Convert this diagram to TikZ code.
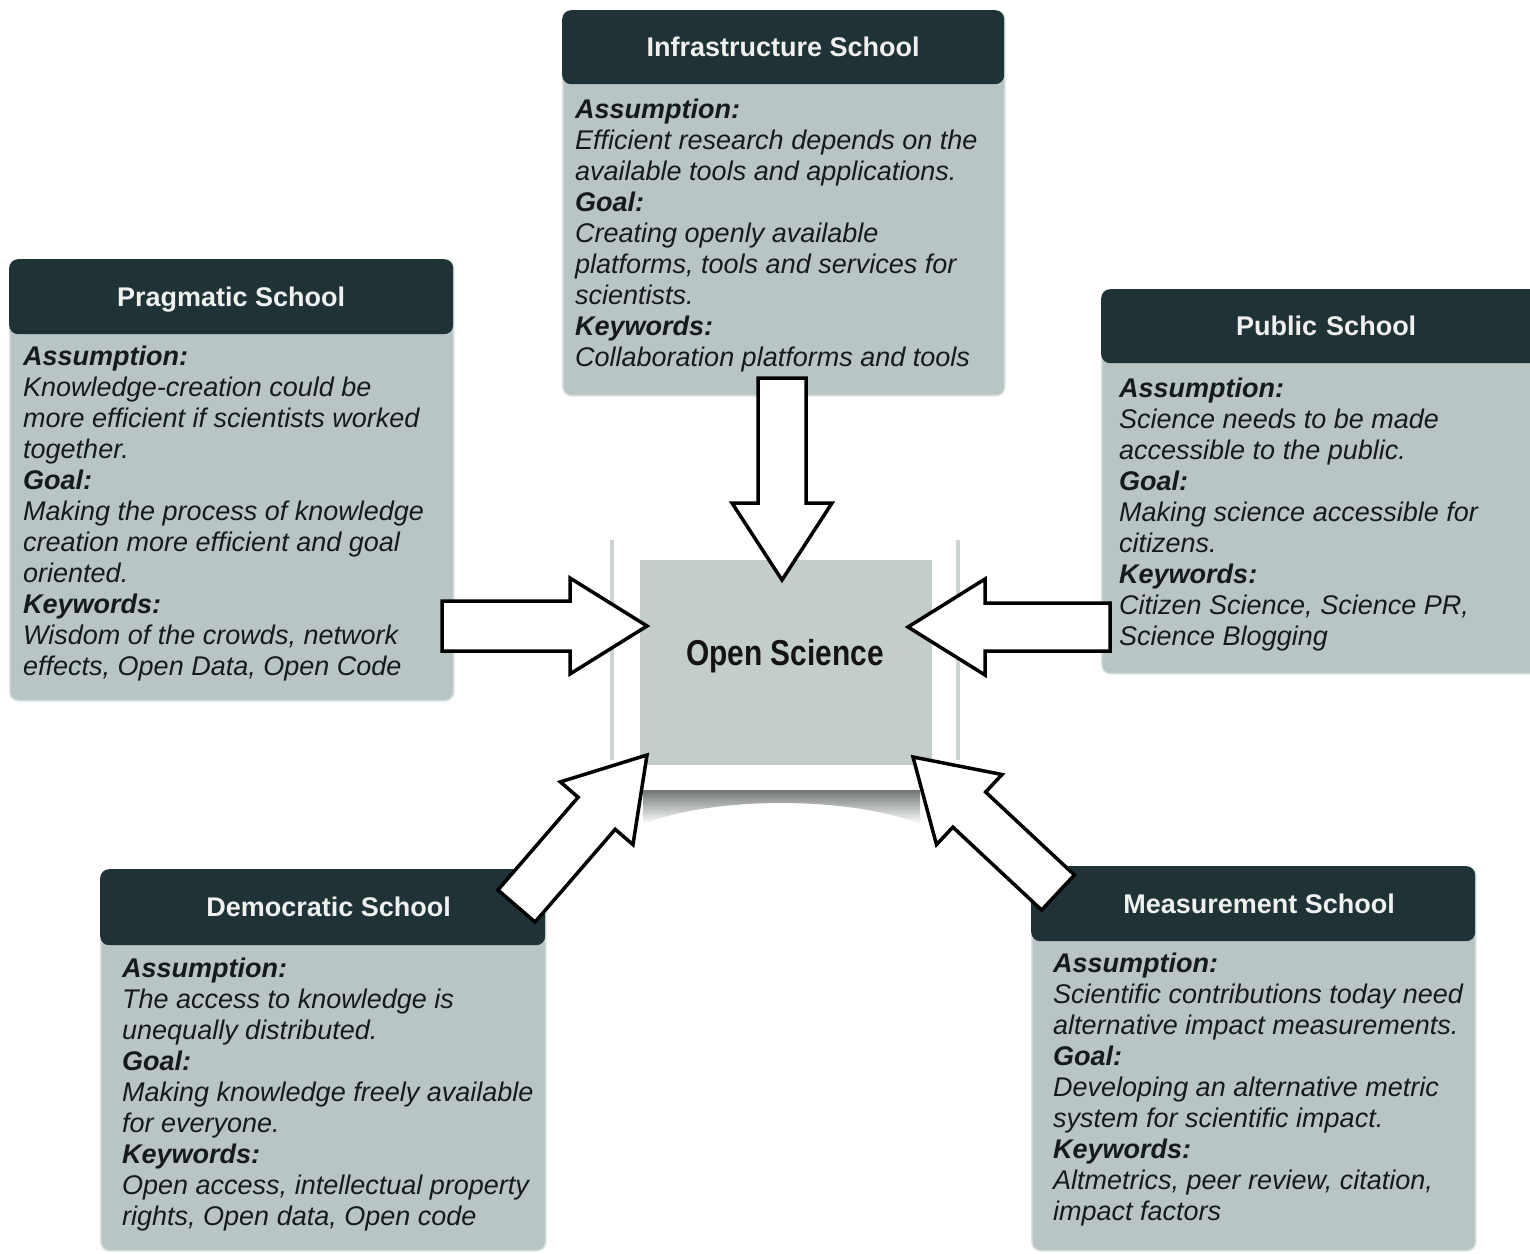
\documentclass[tikz,border=0pt]{standalone}
\usepackage{fontspec}
\setmainfont{Liberation Sans}
\usetikzlibrary{calc}

\definecolor{headfill}{HTML}{1F3337}
\definecolor{bodyfill}{HTML}{B8C5C4}
\definecolor{corefill}{HTML}{C3CDCC}
\definecolor{rimgray}{HTML}{CCD5D4}
\definecolor{inktext}{HTML}{161A1A}

\tikzset{
  bodybox/.style={draw=bodyfill!55!white, line width=1.5pt, fill=bodyfill,
    rounded corners=9pt, anchor=north west, inner sep=0pt},
  headbox/.style={fill=headfill, rounded corners=9pt, anchor=north west,
    inner sep=0pt, text=white!94!black,
    font=\fontsize{27}{31}\selectfont\bfseries, text height=19.5pt, text depth=0pt},
  bodytext/.style={anchor=north west, inner sep=0pt, align=left, text=inktext,
    font=\fontsize{27}{31}\selectfont\itshape},
  corebox/.style={fill=corefill, inner sep=0pt, minimum width=292pt, minimum height=205pt},
  arrowbody/.style={fill=white, draw=black, line width=3.5pt, line join=miter}
}

% block arrow: #1 tail, #2 tip, #3 shaft half width, #4 head half width, #5 head length
\newcommand{\blockarrow}[5]{%
  \coordinate (#1-base) at ($(#2)!#5!(#1)$);
  \draw[arrowbody]
    ($(#1)!#3!90:(#2)$) -- ($(#1-base)!#3!90:(#2)$) -- ($(#1-base)!#4!90:(#2)$)
    -- (#2)
    -- ($(#1-base)!#4!-90:(#2)$) -- ($(#1-base)!#3!-90:(#2)$) -- ($(#1)!#3!-90:(#2)$)
    -- cycle;
}

\newcommand{\lbl}[1]{\textbf{#1}}

\begin{document}
\begin{tikzpicture}[x=1pt, y=-1pt]
  \useasboundingbox (0,0) rectangle (1530,1253);
  \fill[white] (0,0) rectangle (1530,1253);
  \clip (0,0) rectangle (1530,1253);

  % ---- central card with curled-page shadow ----
  \draw[rimgray, line width=4pt] (612,540) -- (612,760);
  \draw[rimgray, line width=4pt] (958,540) -- (958,760);
  \shade[top color=black!42!corefill, bottom color=white]
    (643,790) -- (920,790) -- (920,824) .. controls (850,796) and (713,796) .. (643,824) -- cycle;
  \node[corebox] (os) at (786,662.5) {};
  \node[inner sep=0pt, font=\fontsize{36}{40}\selectfont\bfseries, text=black!92] (ostext)
    at (785,656) {\scalebox{0.83}[1]{Open Science}};

  % ---- Infrastructure School ----
  \node[bodybox, minimum width=442pt, minimum height=385pt] (infra) at (562,10) {};
  \node[headbox, minimum width=442pt, minimum height=74pt] (infraH) at (562,10) {Infrastructure School};
  \node[bodytext] (infraT) at (575,96.3) {\strut\lbl{Assumption:}\\
    Efficient research depends on the\\
    available tools and applications.\\
    \lbl{Goal:}\\
    Creating openly available\\
    platforms, tools and services for\\
    scientists.\\
    \lbl{Keywords:}\\
    Collaboration platforms and tools};

  % ---- Pragmatic School ----
  \node[bodybox, minimum width=444pt, minimum height=441pt] (prag) at (9,259) {};
  \node[headbox, minimum width=444pt, minimum height=75pt] (pragH) at (9,259) {Pragmatic School};
  \node[bodytext] (pragT) at (23,343.3) {\strut\lbl{Assumption:}\\
    Knowledge-creation could be\\
    more efficient if scientists worked\\
    together.\\
    \lbl{Goal:}\\
    Making the process of knowledge\\
    creation more efficient and goal\\
    oriented.\\
    \lbl{Keywords:}\\
    Wisdom of the crowds, network\\
    effects, Open Data, Open Code};

  % ---- Public School ----
  \node[bodybox, minimum width=450pt, minimum height=384pt] (pub) at (1101,289) {};
  \node[headbox, minimum width=450pt, minimum height=74pt, text width=430pt, align=left] (pubH) at (1101,289)
    {\hspace*{125pt}Public School};
  \node[bodytext] (pubT) at (1119,375.3) {\strut\lbl{Assumption:}\\
    Science needs to be made\\
    accessible to the public.\\
    \lbl{Goal:}\\
    Making science accessible for\\
    citizens.\\
    \lbl{Keywords:}\\
    Citizen Science, Science PR,\\
    Science Blogging};

  % ---- Democratic School ----
  \node[bodybox, minimum width=445pt, minimum height=381pt] (demo) at (100,869) {};
  \node[headbox, minimum width=445pt, minimum height=76pt] (demoH) at (100,869) {\hspace*{12pt}Democratic School};
  \node[bodytext] (demoT) at (122,955.3) {\strut\lbl{Assumption:}\\
    The access to knowledge is\\
    unequally distributed.\\
    \lbl{Goal:}\\
    Making knowledge freely available\\
    for everyone.\\
    \lbl{Keywords:}\\
    Open access, intellectual property\\
    rights, Open data, Open code};

  % ---- Measurement School ----
  \node[bodybox, minimum width=444pt, minimum height=384pt] (meas) at (1031,866) {};
  \node[headbox, minimum width=444pt, minimum height=75pt] (measH) at (1031,866) {\hspace*{12pt}Measurement School};
  \node[bodytext] (measT) at (1053,950.3) {\strut\lbl{Assumption:}\\
    Scientific contributions today need\\
    alternative impact measurements.\\
    \lbl{Goal:}\\
    Developing an alternative metric\\
    system for scientific impact.\\
    \lbl{Keywords:}\\
    Altmetrics, peer review, citation,\\
    impact factors};

  % ---- block arrows pointing at the central card ----
  \coordinate (tailInfra) at (782,378);  \coordinate (tipInfra) at (782,580);
  \coordinate (tailPrag)  at (442,626);  \coordinate (tipPrag)  at (647,626);
  \coordinate (tailPub)   at (1110,627); \coordinate (tipPub)   at (908,627);
  \coordinate (tailDemo)  at (516.5,906);\coordinate (tipDemo)  at (647,755);
  \coordinate (tailMeas)  at (1058,892.5);\coordinate (tipMeas) at (913,757);

  \blockarrow{tailInfra}{tipInfra}{24pt}{50pt}{77pt}
  \blockarrow{tailPrag}{tipPrag}{25pt}{48pt}{77pt}
  \blockarrow{tailPub}{tipPub}{24pt}{48pt}{77pt}
  \blockarrow{tailDemo}{tipDemo}{24.5pt}{48pt}{77pt}
  \blockarrow{tailMeas}{tipMeas}{24pt}{48pt}{77pt}
\end{tikzpicture}
\end{document}
